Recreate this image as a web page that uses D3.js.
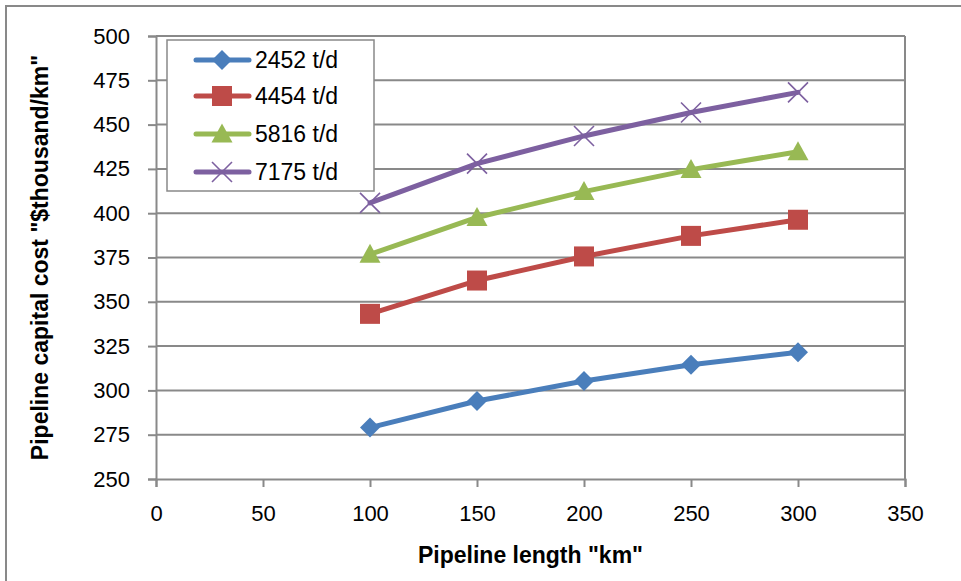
<!DOCTYPE html>
<html>
<head>
<meta charset="utf-8">
<script src="https://cdn.jsdelivr.net/npm/d3@7"></script>
<style>
  html, body { margin: 0; padding: 0; background: #fff; }
  svg { display: block; }
  text { font-family: "Liberation Sans", "DejaVu Sans", sans-serif; fill: #000; }
</style>
</head>
<body>
<svg id="chart" width="961" height="581"></svg>
<script>
// Pipeline length (km)
const lengths = [100, 150, 200, 250, 300];
// Capital cost ($thousand/km) for each throughput
const cost2452 = [279, 294, 305.3, 314.5, 321.5];
const cost4454 = [343.2, 362, 375.6, 387.2, 396.3];
const cost5816 = [376.8, 397.6, 412.2, 424.6, 434.7];
const cost7175 = [405.8, 428, 443.6, 456.8, 468.2];
const seriesNames = ["2452 t/d", "4454 t/d", "5816 t/d", "7175 t/d"];
const xTicks = [0, 50, 100, 150, 200, 250, 300, 350];
const yTicks = [250, 275, 300, 325, 350, 375, 400, 425, 450, 475, 500];

const series = [
  { name: seriesNames[0], values: cost2452, color: "#4A7EBB", marker: "diamond" },
  { name: seriesNames[1], values: cost4454, color: "#BE4B48", marker: "square" },
  { name: seriesNames[2], values: cost5816, color: "#98B954", marker: "triangle" },
  { name: seriesNames[3], values: cost7175, color: "#7D60A0", marker: "cross" }
];

const svg = d3.select("#chart");
const plot = { left: 156, right: 905, top: 36, bottom: 479 };
const gridColor = "#898989";

// outer frame
svg.append("path")
  .attr("d", "M6,590 L6,6 L970,6")
  .attr("fill", "none").attr("stroke", gridColor).attr("stroke-width", 2);

const x = d3.scaleLinear().domain([0, 350]).range([plot.left, plot.right]);
const y = d3.scaleLinear().domain([250, 500]).range([plot.bottom, plot.top]);

// horizontal gridlines
svg.append("g").selectAll("line").data(yTicks.slice(1)).join("line")
  .attr("x1", plot.left).attr("x2", plot.right)
  .attr("y1", d => y(d)).attr("y2", d => y(d))
  .attr("stroke", gridColor).attr("stroke-width", 2);

// plot area right border
svg.append("line")
  .attr("x1", plot.right).attr("x2", plot.right)
  .attr("y1", plot.top).attr("y2", plot.bottom)
  .attr("stroke", gridColor).attr("stroke-width", 2);

// axes
const xAxis = svg.append("g").attr("transform", `translate(0,${plot.bottom})`)
  .call(d3.axisBottom(x).tickValues(xTicks).tickSize(8).tickPadding(18).tickFormat(d3.format("d")));
const yAxis = svg.append("g").attr("transform", `translate(${plot.left},0)`)
  .call(d3.axisLeft(y).tickValues(yTicks).tickSize(8).tickPadding(18).tickFormat(d3.format("d")));
[xAxis, yAxis].forEach(g => {
  g.select(".domain").attr("stroke", gridColor).attr("stroke-width", 2);
  g.selectAll(".tick line").attr("stroke", gridColor).attr("stroke-width", 2);
  g.selectAll(".tick text").attr("font-size", 22).attr("fill", "#000")
    .style("font-family", '"Liberation Sans", sans-serif');
});
xAxis.selectAll(".tick text").attr("dy", "0.71em");

// axis titles
svg.append("text")
  .attr("x", (plot.left + plot.right) / 2).attr("y", 563)
  .attr("text-anchor", "middle").attr("font-size", 23).attr("font-weight", "bold")
  .text('Pipeline length "km"');
svg.append("text")
  .attr("transform", `translate(48,${(plot.top + plot.bottom) / 2}) rotate(-90)`)
  .attr("text-anchor", "middle").attr("font-size", 23).attr("font-weight", "bold")
  .text('Pipeline capital cost "$thousand/km"');

// marker shapes
function drawMarker(g, type, color, cx, cy, s) {
  if (type === "diamond") {
    g.append("path").attr("d", `M${cx},${cy - s}L${cx + s},${cy}L${cx},${cy + s}L${cx - s},${cy}Z`).attr("fill", color);
  } else if (type === "square") {
    g.append("rect").attr("x", cx - s).attr("y", cy - s).attr("width", 2 * s).attr("height", 2 * s).attr("fill", color);
  } else if (type === "triangle") {
    g.append("path").attr("d", `M${cx},${cy - s * 1.05}L${cx + s * 1.05},${cy + s * 0.85}L${cx - s * 1.05},${cy + s * 0.85}Z`).attr("fill", color);
  } else {
    g.append("path").attr("d", `M${cx - s},${cy - s}L${cx + s},${cy + s}M${cx + s},${cy - s}L${cx - s},${cy + s}`)
      .attr("stroke", color).attr("stroke-width", 1.6).attr("fill", "none");
  }
}

const line = d3.line().x((d, i) => x(lengths[i])).y(d => y(d));
series.forEach(s => {
  const g = svg.append("g");
  g.append("path").datum(s.values).attr("d", line)
    .attr("fill", "none").attr("stroke", s.color).attr("stroke-width", 5)
    .attr("stroke-linejoin", "round").attr("stroke-linecap", "round");
  s.values.forEach((v, i) => drawMarker(g, s.marker, s.color, x(lengths[i]), y(v), 10));
});

// legend
const legend = svg.append("g");
legend.append("rect").attr("x", 167).attr("y", 40).attr("width", 207).attr("height", 151)
  .attr("fill", "#fff").attr("stroke", gridColor).attr("stroke-width", 1.5);
const rowY = [60, 96, 134, 172];
series.forEach((s, i) => {
  const cy = rowY[i];
  legend.append("line").attr("x1", 196).attr("x2", 249).attr("y1", cy).attr("y2", cy)
    .attr("stroke", s.color).attr("stroke-width", 5).attr("stroke-linecap", "round");
  drawMarker(legend, s.marker, s.color, 222, cy, 10);
  legend.append("text").attr("x", 255).attr("y", cy).attr("dy", "0.36em")
    .attr("font-size", 23).text(s.name);
});
</script>
</body>
</html>
